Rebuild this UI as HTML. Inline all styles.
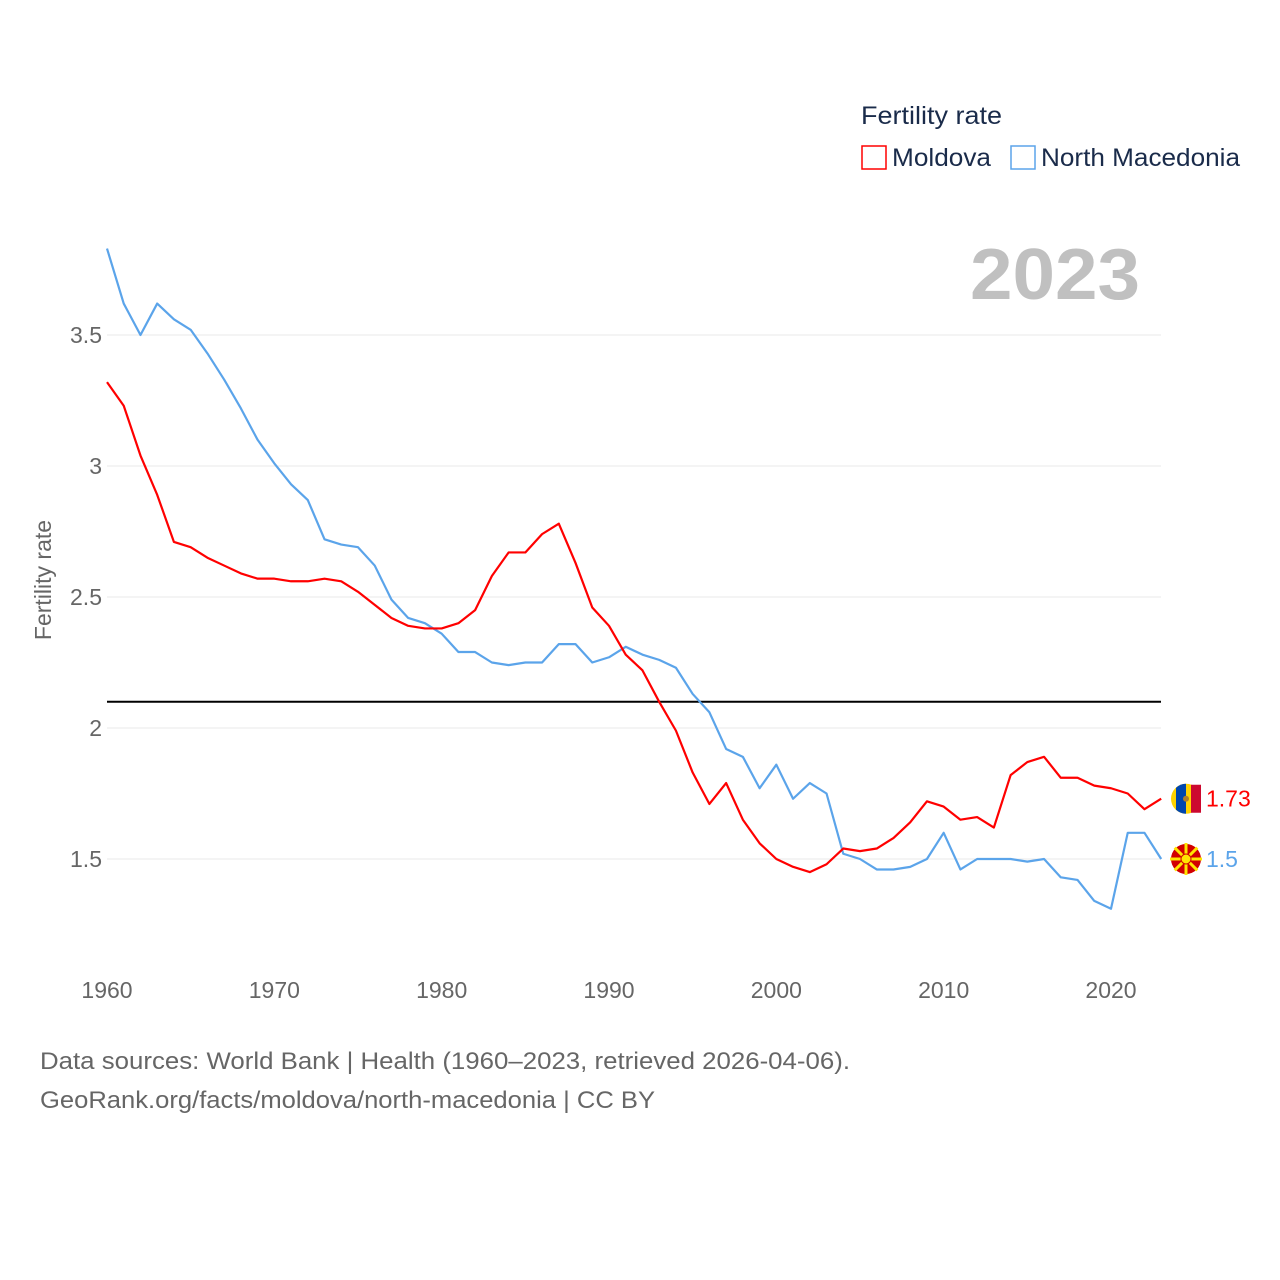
<!DOCTYPE html>
<html><head><meta charset="utf-8">
<style>
body{margin:0;background:#fff;font-family:"Liberation Sans",sans-serif;}
svg{display:block}
text{font-family:"Liberation Sans",sans-serif;}
</style></head>
<body>
<svg id="chart" width="1280" height="1280" viewBox="0 0 1280 1280" xmlns="http://www.w3.org/2000/svg">
<text x="861" y="124" font-size="25" fill="#1a2b4a" textLength="141" lengthAdjust="spacingAndGlyphs">Fertility rate</text>
<g>
<rect x="862" y="146" width="24" height="23" fill="none" stroke="#ff0000" stroke-width="1.5"/>
<text x="892" y="166" font-size="25" fill="#1a2b4a" textLength="99" lengthAdjust="spacingAndGlyphs">Moldova</text></g>
<g>
<rect x="1011" y="146" width="24" height="23" fill="none" stroke="#5ba4ea" stroke-width="1.5"/>
<text x="1041" y="166" font-size="25" fill="#1a2b4a" textLength="199" lengthAdjust="spacingAndGlyphs">North Macedonia</text></g>
<text x="970" y="299" font-size="72" font-weight="bold" fill="#c0c0c0" textLength="170" lengthAdjust="spacingAndGlyphs">2023</text>
<text transform="translate(51,580) rotate(-90)" font-size="23" fill="#666" text-anchor="middle">Fertility rate</text>
<g id="grid"></g><g id="series"></g>
<text x="40" y="1069" font-size="24" fill="#666" textLength="810" lengthAdjust="spacingAndGlyphs">Data sources: World Bank | Health (1960–2023, retrieved 2026-04-06).</text>
<text x="40" y="1108" font-size="24" fill="#666" textLength="615" lengthAdjust="spacingAndGlyphs">GeoRank.org/facts/moldova/north-macedonia | CC BY</text>
</svg>
<script>
const years = [];for(let y=1960;y<=2023;y++)years.push(y);
const yTicks = [1.5,2,2.5,3,3.5];
const xTicks = [1960,1970,1980,1990,2000,2010,2020];
const refLine = 2.1;
const moldova = [3.32,3.23,3.04,2.89,2.71,2.69,2.65,2.62,2.59,2.57,2.57,2.56,2.56,2.57,2.56,2.52,2.47,2.42,2.39,2.38,2.38,2.40,2.45,2.58,2.67,2.67,2.74,2.78,2.63,2.46,2.39,2.28,2.22,2.10,1.99,1.83,1.71,1.79,1.65,1.56,1.50,1.47,1.45,1.48,1.54,1.53,1.54,1.58,1.64,1.72,1.70,1.65,1.66,1.62,1.82,1.87,1.89,1.81,1.81,1.78,1.77,1.75,1.69,1.73];
const macedonia = [3.83,3.62,3.50,3.62,3.56,3.52,3.43,3.33,3.22,3.10,3.01,2.93,2.87,2.72,2.70,2.69,2.62,2.49,2.42,2.40,2.36,2.29,2.29,2.25,2.24,2.25,2.25,2.32,2.32,2.25,2.27,2.31,2.28,2.26,2.23,2.13,2.06,1.92,1.89,1.77,1.86,1.73,1.79,1.75,1.52,1.50,1.46,1.46,1.47,1.50,1.60,1.46,1.50,1.50,1.50,1.49,1.50,1.43,1.42,1.34,1.31,1.60,1.60,1.50];
const X = y => 107 + (y-1960)*(1111-107)/60;
const Y = v => 728 - (v-2)*262;
const NS="http://www.w3.org/2000/svg";
function mk(tag,attrs,parent,txt){const e=document.createElementNS(NS,tag);for(const k in attrs)e.setAttribute(k,attrs[k]);if(txt!==undefined)e.textContent=txt;parent.appendChild(e);return e;}
const grid=document.getElementById('grid'), ser=document.getElementById('series');
yTicks.forEach(t=>{
  const l=mk('line',{x1:107,x2:1161,y1:Y(t),y2:Y(t),stroke:'#e8e8e8','stroke-width':1},grid);
  
  
  const tx=mk('text',{x:102,y:Y(t)+8,'font-size':23,fill:'#666','text-anchor':'end'},grid,String(t));
  
  
});
xTicks.forEach(t=>{
  const tx=mk('text',{x:X(t),y:998,'font-size':23,fill:'#666','text-anchor':'middle'},grid,String(t));
  
  
});
const rl=mk('line',{x1:107,x2:1161,y1:Y(refLine),y2:Y(refLine),stroke:'#000','stroke-width':2},grid);


function line(vals,color,name){
  const p=mk('polyline',{points:vals.map((v,i)=>X(years[i])+','+Y(v)).join(' '),fill:'none',stroke:color,'stroke-width':2.2,'stroke-linejoin':'round'},ser);
  
  
}
line(macedonia,'#5ba4ea','north-macedonia-line');
line(moldova,'#ff0000','moldova-line');
const mv=moldova[moldova.length-1], nv=macedonia[macedonia.length-1];
const fm=mk('g',{},ser);


mk('circle',{cx:1186,cy:Y(mv),r:15,fill:'#ffd200'},fm);
mk('path',{d:`M1186 ${Y(mv)-15} A15 15 0 0 0 1176 ${Y(mv)-11} L1176 ${Y(mv)+11} A15 15 0 0 0 1186 ${Y(mv)+15}Z`,fill:'#0046ae'},fm);
mk('rect',{x:1191,y:Y(mv)-14,width:10,height:28,fill:'#cc092f'},fm);
mk('circle',{cx:1186,cy:Y(mv),r:3,fill:'#b07e2a'},fm);
const tm=mk('text',{x:1206,y:Y(mv)+8,'font-size':23,fill:'#ff0000'},ser,String(mv));


const fn=mk('g',{},ser);


const cy=Y(nv);
mk('circle',{cx:1186,cy:cy,r:15,fill:'#d20000'},fn);
for(let a=0;a<8;a++){const ang=a*Math.PI/4;mk('line',{x1:1186,y1:cy,x2:1186+16*Math.cos(ang),y2:cy+16*Math.sin(ang),stroke:'#ffe600','stroke-width':3},fn);}
mk('circle',{cx:1186,cy:cy,r:5,fill:'#ffe600',stroke:'#d20000','stroke-width':1},fn);
const tn=mk('text',{x:1206,y:cy+8,'font-size':23,fill:'#5ba4ea'},ser,String(nv));


</script>
</body></html>
